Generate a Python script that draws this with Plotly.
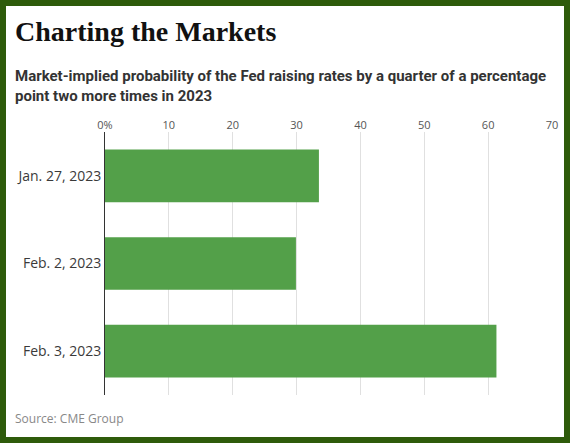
import plotly.graph_objects as go

# data
dates = ["Jan. 27, 2023", "Feb. 2, 2023", "Feb. 3, 2023"]
probability = [33.5, 29.9, 61.3]
tick_vals = [0, 10, 20, 30, 40, 50, 60, 70]
tick_text = ["0%", "10", "20", "30", "40", "50", "60", "70"]

W, H = 570, 443
L, R, T, B = 105, 18, 132, 48
PW, PH = W - L - R, H - T - B


def px_x(x):
    # pixel -> paper x
    return (x - L) / PW


def px_y(y):
    # pixel -> paper y
    return (H - B - y) / PH


fig = go.Figure(go.Bar(
    x=probability, y=dates, orientation="h",
    marker=dict(color="#53a049", line=dict(width=0)),
    hoverinfo="x+y",
))

fig.update_layout(
    width=W, height=H,
    margin=dict(l=L, r=R, t=T, b=B),
    paper_bgcolor="white", plot_bgcolor="white",
    bargap=0.4, showlegend=False,
    xaxis=dict(
        side="top", range=[0, 70], tickvals=tick_vals, ticktext=tick_text,
        showgrid=True, gridcolor="#e0e0e0", gridwidth=1, zeroline=False,
        showline=False, ticks="",
        tickfont=dict(family="Open Sans", size=11, color="#555555"),
    ),
    yaxis=dict(
        categoryorder="array", categoryarray=dates, autorange="reversed",
        showline=True, linecolor="#333333", linewidth=1, showgrid=False,
        ticks="", ticklabelstandoff=0,
        tickfont=dict(family="Open Sans", size=14, color="#3a3a3a"),
    ),
    font=dict(family="Open Sans"),
)

# green frame round the picture
fig.add_shape(type="rect", xref="paper", yref="paper",
              x0=px_x(3), x1=px_x(567), y0=px_y(3), y1=px_y(440),
              line=dict(color="#2e5b0b", width=6), fillcolor="rgba(0,0,0,0)")

fig.add_annotation(
    text="<b>Charting the Markets</b>", xref="paper", yref="paper",
    x=px_x(13), y=px_y(14), xanchor="left", yanchor="top", showarrow=False,
    font=dict(family="Liberation Serif", size=28, color="#111111"),
)
fig.add_annotation(
    text="Market-implied probability of the Fed raising rates by a quarter of a percentage<br>point two more times in 2023",
    xref="paper", yref="paper", x=px_x(13), y=px_y(65), xanchor="left", yanchor="top",
    align="left", showarrow=False,
    font=dict(family="Roboto", size=15, color="#333333", weight=700),
)
fig.add_annotation(
    text="Source: CME Group", xref="paper", yref="paper",
    x=px_x(13), y=px_y(418), xanchor="left", yanchor="middle", showarrow=False,
    font=dict(family="Open Sans", size=12, color="#888888"),
)

# drop the page's default body margin so the figure sits at the window's corner
fig.write_html("out.html", config={"displayModeBar": False},
               post_script="document.body.style.margin='0';")
